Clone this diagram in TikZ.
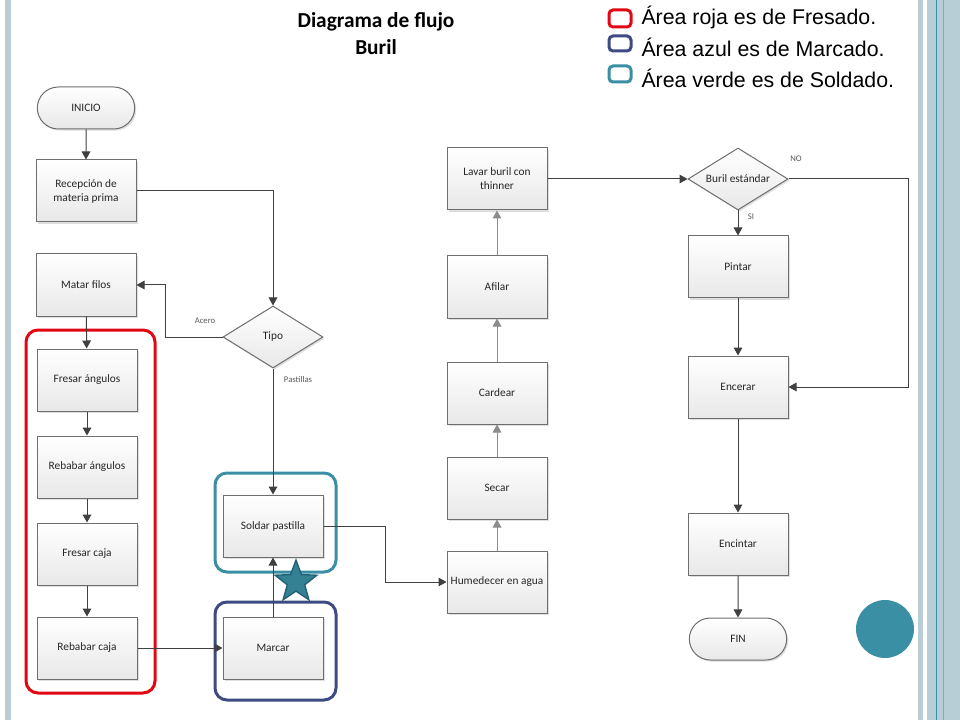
\documentclass[tikz,border=0pt]{standalone}
\usepackage{fontspec}
\setmainfont{Carlito}
\newfontfamily\arialfont{Liberation Sans}
\usetikzlibrary{shapes.geometric,shapes.misc,arrows.meta,shadows}

\definecolor{lineagris}{RGB}{64,64,64}
\definecolor{lineaclara}{RGB}{140,140,140}
\definecolor{bordecaja}{RGB}{110,110,110}
\definecolor{rojoarea}{RGB}{225,8,20}
\definecolor{azularea}{RGB}{62,74,132}
\definecolor{verdearea}{RGB}{58,143,165}
\definecolor{barra}{RGB}{184,206,215}
\definecolor{estrellaborde}{RGB}{32,96,118}

\tikzset{every picture/.style={line width=0.75pt}}
\tikzset{
  proceso/.style={rectangle, draw=bordecaja, top color=white, bottom color=black!9,
    minimum width=75pt, minimum height=46.5pt, inner sep=1pt, align=center,
    font=\fontsize{8.5}{10.5}\selectfont, text=black!85,
    drop shadow={shadow xshift=1.2pt, shadow yshift=-1.2pt, opacity=0.25}},
  terminal/.style={proceso, rounded rectangle, minimum height=31.5pt},
  decision/.style={diamond, aspect=1.6, draw=bordecaja, top color=white, bottom color=black!9,
    minimum width=75pt, minimum height=46.5pt, inner sep=0pt, align=center,
    font=\fontsize{8.5}{10.5}\selectfont, text=black!85,
    drop shadow={shadow xshift=1.2pt, shadow yshift=-1.2pt, opacity=0.25}},
  flujo/.style={draw=lineagris, -{Triangle[length=6pt,width=6.5pt]}},
  flujoclaro/.style={flujo, draw=lineaclara},
  etiqueta/.style={font=\fontsize{6.5}{7.5}\selectfont, text=black!65, inner sep=0.75pt},
  area/.style={line width=2.25pt, rounded corners=9pt},
  muestra/.style={line width=2.25pt, rounded corners=3pt},
  leyenda/.style={anchor=west, font=\arialfont\fontsize{16}{18}\selectfont, inner sep=0pt}
}

\begin{document}
\begin{tikzpicture}[x=0.75pt,y=0.75pt,yscale=-1,xscale=1]
\useasboundingbox[fill=white] (0,0) rectangle (960,720);

% side bars
\fill[barra] (5,0) rectangle (11,720);
\fill[barra] (918,0) rectangle (923,720);
\fill[barra] (927,0) rectangle (960,720);
\draw[verdearea] (936.5,0) -- (936.5,720);
\draw[barra!80!black, line width=0.4pt] (943.5,0) -- (943.5,720);

% title
\node[font=\bfseries\fontsize{16}{19}\selectfont] (titulo) at (376,22) {Diagrama de flujo};
\node[font=\bfseries\fontsize{16}{19}\selectfont] (subtitulo) at (376,47) {Buril};

% legend
\draw[muestra, rojoarea] (609,10) rectangle (631,27);
\draw[muestra, azularea] (609,36) rectangle (631,51);
\draw[muestra, verdearea] (609,66) rectangle (631,82);
\node[leyenda] (leyroja) at (641,17) {Área roja es de Fresado.};
\node[leyenda] (leyazul) at (641,47) {Área azul es de Marcado.};
\node[leyenda] (leyverde) at (641,78) {Área verde es de Soldado.};

% areas
\draw[area, rojoarea] (26,330) rectangle (155,693);
\draw[area, verdearea] (215,473) rectangle (336,572);
\draw[area, azularea] (215,602) rectangle (336,700);

% left column
\node[terminal] (inicio) at (86,108) {INICIO};
\node[proceso] (recepcion) at (86,191) {Recepción de\\materia prima};
\node[proceso] (matar) at (86,285) {Matar filos};
\node[proceso] (fresang) at (87,380) {Fresar ángulos};
\node[proceso] (rebang) at (87,467) {Rebabar ángulos};
\node[proceso] (frescaja) at (87,554) {Fresar caja};
\node[proceso] (rebcaja) at (87,648) {Rebabar caja};

% middle column
\node[decision] (tipo) at (273,337) {Tipo};
\node[proceso] (soldar) at (273,526) {Soldar pastilla};
\node[proceso] (marcar) at (273,648) {Marcar};

% column going up
\node[proceso] (humedecer) at (497,582) {Humedecer en agua};
\node[proceso] (secar) at (497,488) {Secar};
\node[proceso] (cardear) at (497,393) {Cardear};
\node[proceso] (afilar) at (497,287) {Afilar};
\node[proceso] (lavar) at (497,179) {Lavar buril con\\thinner};

% right column
\node[decision] (buril) at (738,179) {Buril estándar};
\node[proceso] (pintar) at (738,267) {Pintar};
\node[proceso] (encerar) at (738,387) {Encerar};
\node[proceso] (encintar) at (738,544) {Encintar};
\node[terminal] (fin) at (738,639) {FIN};

% bends
\coordinate (codoacero) at (165,337);
\coordinate (codosoldar) at (385,526);
\coordinate (codono) at (908,179);

% connectors
\draw[flujo] (inicio) -- (recepcion);
\draw[flujo] (recepcion.east) -| (tipo.north);
\draw[flujo] (tipo.west) -- (codoacero) |- (matar.east);
\draw[flujo] (matar) -- (fresang);
\draw[flujo] (fresang) -- (rebang);
\draw[flujo] (rebang) -- (frescaja);
\draw[flujo] (frescaja) -- (rebcaja);
\draw[flujo] (rebcaja) -- (marcar);
\draw[flujo] (tipo) -- (soldar);
\draw[flujo] (marcar) -- (soldar);
\draw[flujo] (soldar.east) -- (codosoldar) |- (humedecer.west);
\draw[flujoclaro] (humedecer) -- (secar);
\draw[flujoclaro] (secar) -- (cardear);
\draw[flujoclaro] (cardear) -- (afilar);
\draw[flujoclaro] (afilar) -- (lavar);
\draw[flujo] (lavar) -- (buril);
\draw[flujo] (buril) -- (pintar);
\draw[flujo] (buril.east) -- (codono) |- (encerar.east);
\draw[flujo] (pintar) -- (encerar);
\draw[flujo] (encerar) -- (encintar);
\draw[flujo] (encintar) -- (fin);

% connector labels
\node[etiqueta] (lacero) at (205,321) {Acero};
\node[etiqueta] (lpastillas) at (298,380) {Pastillas};
\node[etiqueta] (lno) at (796,159) {NO};
\node[etiqueta] (lsi) at (751,217) {SI};

% star and dot
\node[star, star points=5, star point ratio=2.4, minimum size=33pt, inner sep=0pt,
  fill=verdearea!90!black, draw=estrellaborde, line width=1pt] (estrella) at (296,582) {};
\fill[verdearea] (885,629) circle[radius=21.75pt];

\end{tikzpicture}
\end{document}
